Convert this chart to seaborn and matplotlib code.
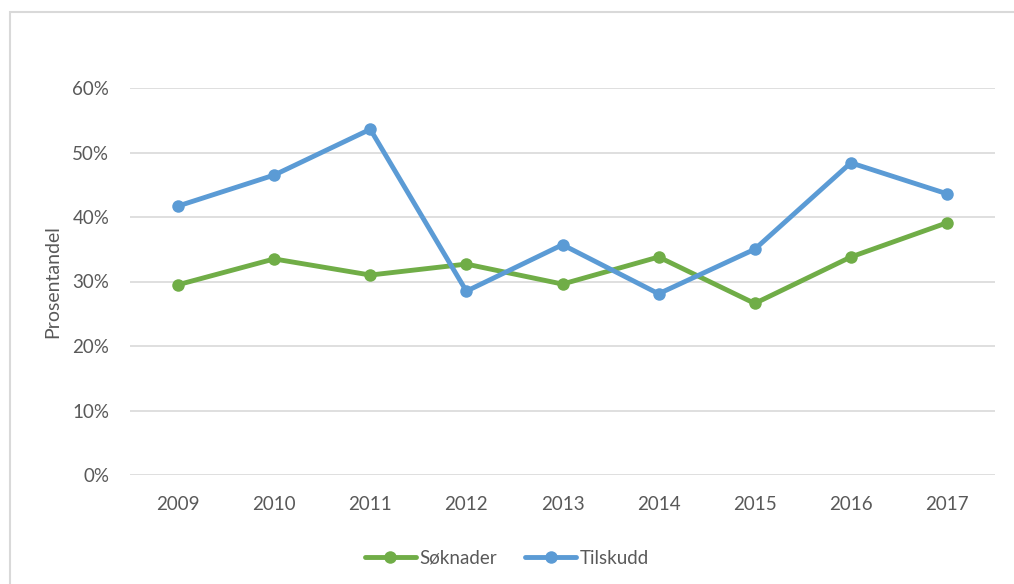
import numpy as np
import pandas as pd
import matplotlib
matplotlib.use('Agg')
import matplotlib.pyplot as plt
import seaborn as sns
from matplotlib.patches import Rectangle
from matplotlib.ticker import PercentFormatter

years = ['2009', '2010', '2011', '2012', '2013', '2014', '2015', '2016', '2017']
soknader = [0.295, 0.335, 0.310, 0.327, 0.296, 0.338, 0.266, 0.338, 0.391]
tilskudd = [0.417, 0.465, 0.536, 0.285, 0.357, 0.281, 0.350, 0.484, 0.436]
series_names = ['Søknader', 'Tilskudd']
colors = ['#70AD47', '#5B9BD5']

df = pd.DataFrame({
    'year': years * 2,
    'value': soknader + tilskudd,
    'serie': [series_names[0]] * len(years) + [series_names[1]] * len(years),
})

sns.set_theme(style='white')
plt.rcParams['font.family'] = ['Lato', 'DejaVu Sans']
text_color = '#595959'

fig = plt.figure(figsize=(10.14, 5.84), dpi=100)
fig.patches.append(Rectangle((10 / 1014, -0.1), 1.2, 1.1 - 12 / 584,
                             transform=fig.transFigure, fill=False,
                             edgecolor='#D9D9D9', linewidth=1.5))
ax = fig.add_axes([130 / 1014, 1 - 475 / 584, 865 / 1014, 387 / 584])

sns.lineplot(data=df, x='year', y='value', hue='serie', palette=colors,
             marker='o', markersize=9, markeredgewidth=0, linewidth=3.5,
             ax=ax, legend=True)

ax.set_ylim(0, 0.6)
ax.set_xlim(-0.5, len(years) - 0.5)
ax.set_yticks(np.arange(0, 0.61, 0.1))
ax.yaxis.set_major_formatter(PercentFormatter(1.0, decimals=0))
ax.grid(axis='y', color='#D9D9D9', linewidth=1.2)
ax.grid(axis='x', visible=False)
for s in ax.spines.values():
    s.set_visible(False)
ax.tick_params(axis='both', length=0, labelsize=13.5, colors=text_color)
ax.tick_params(axis='y', pad=15)
ax.tick_params(axis='x', pad=15)
ax.set_xlabel('')
ax.set_ylabel('Prosentandel', fontsize=14, color=text_color, labelpad=8)

handles, labels = ax.get_legend_handles_labels()
ax.legend(handles, labels, loc='center', bbox_to_anchor=(0.5, (584 - 558) / 584),
          bbox_transform=fig.transFigure, ncol=2, frameon=False,
          fontsize=13.5, labelcolor=text_color, handlelength=2.7,
          handletextpad=0.2, columnspacing=1.5)

fig.savefig('out.png', dpi=100)
